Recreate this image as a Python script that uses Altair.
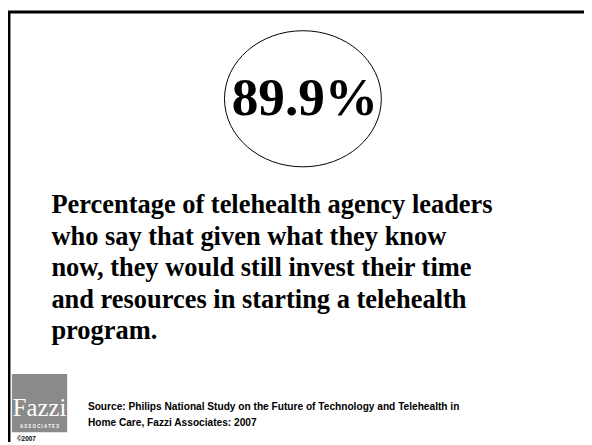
import altair as alt
import pandas as pd

# ---- content ----
headline_value = ["89.9%"]
body_lines = [
    "Percentage of telehealth agency leaders",
    "who say that given what they know",
    "now, they would still invest their time",
    "and resources in starting a telehealth",
    "program.",
]
source_lines = [
    "Source: Philips National Study on the Future of Technology and Telehealth in",
    "Home Care, Fazzi Associates: 2007",
]
logo_word = ["Fazzi"]
logo_sub = ["A S S O C I A T E S"]
copyright_txt = ["©2007"]

W, H = 584, 437
one = alt.Data(values=[{"k": 0}])

ellipse_path = ("M -1 0 C -1 -0.4794 -0.5523 -0.868 0 -0.868 "
                "C 0.5523 -0.868 1 -0.4794 1 0 "
                "C 1 0.4794 0.5523 0.868 0 0.868 "
                "C -0.5523 0.868 -1 0.4794 -1 0 Z")

border_top = alt.Chart(one).mark_rule(color="black", strokeWidth=3).encode(
    x=alt.value(0), x2=alt.value(W), y=alt.value(1))
border_left = alt.Chart(one).mark_rule(color="black", strokeWidth=3).encode(
    x=alt.value(1), y=alt.value(0), y2=alt.value(H))

ellipse = alt.Chart(one).mark_point(
    shape=ellipse_path, size=159 * 159, filled=False,
    stroke="black", strokeWidth=1, opacity=1
).encode(x=alt.value(299), y=alt.value(89))

big = alt.Chart(pd.DataFrame({"t": headline_value})).mark_text(
    font="Liberation Serif", fontWeight="bold", fontSize=54, align="center",
    baseline="alphabetic", color="black"
).encode(x=alt.value(301), y=alt.value(105), text="t:N")

body = alt.Chart(pd.DataFrame({"t": ["\n".join(body_lines)]})).mark_text(
    font="Liberation Serif", fontWeight="bold", fontSize=26.8, align="left",
    baseline="alphabetic", lineBreak="\n", lineHeight=32, color="black"
).encode(x=alt.value(44), y=alt.value(205), text="t:N")

source = alt.Chart(pd.DataFrame({"t": ["\n".join(source_lines)]})).mark_text(
    font="Liberation Sans", fontWeight="bold", fontSize=10.3, align="left",
    baseline="alphabetic", lineBreak="\n", lineHeight=16, color="black"
).encode(x=alt.value(81), y=alt.value(405), text="t:N")

logo_box = alt.Chart(one).mark_rect(color="#8a8a8a").encode(
    x=alt.value(4), x2=alt.value(60), y=alt.value(368), y2=alt.value(427))
logo_text = alt.Chart(pd.DataFrame({"t": logo_word})).mark_text(
    font="Liberation Serif", fontSize=25, align="center", baseline="alphabetic",
    color="white"
).encode(x=alt.value(32), y=alt.value(411), text="t:N")
logo_sub_text = alt.Chart(pd.DataFrame({"t": logo_sub})).mark_text(
    font="Liberation Sans", fontWeight="bold", fontSize=4.5, align="center",
    baseline="alphabetic", color="white"
).encode(x=alt.value(32), y=alt.value(423), text="t:N")
copy = alt.Chart(pd.DataFrame({"t": copyright_txt})).mark_text(
    font="Liberation Sans", fontWeight="bold", fontSize=6.5, align="left",
    baseline="alphabetic", color="black"
).encode(x=alt.value(9), y=alt.value(436), text="t:N")

chart = alt.layer(
    border_top, border_left, ellipse, big, body, source,
    logo_box, logo_text, logo_sub_text, copy
).properties(
    width=W, height=H, padding=0, autosize=alt.AutoSizeParams(type="none"),
    background="white"
).configure_view(stroke=None)

chart.save("out.html", embed_options={"renderer": "svg", "actions": False})
